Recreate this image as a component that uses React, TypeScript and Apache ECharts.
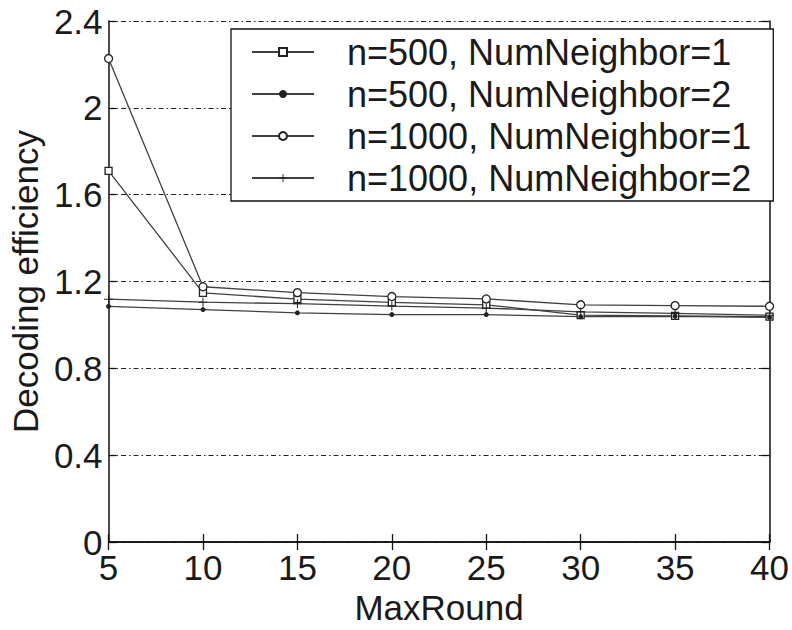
import React, { useEffect, useRef } from "react";
import * as echarts from "echarts";

const maxRound = [5, 10, 15, 20, 25, 30, 35, 40];
const n500nn1 = [1.71, 1.148, 1.119, 1.104, 1.093, 1.045, 1.042, 1.038];
const n500nn2 = [1.086, 1.071, 1.056, 1.048, 1.048, 1.038, 1.04, 1.035];
const n1000nn1 = [2.227, 1.176, 1.149, 1.131, 1.12, 1.093, 1.089, 1.086];
const n1000nn2 = [1.119, 1.105, 1.098, 1.087, 1.078, 1.06, 1.053, 1.045];
const seriesNames = [
  "n=500, NumNeighbor=1",
  "n=500, NumNeighbor=2",
  "n=1000, NumNeighbor=1",
  "n=1000, NumNeighbor=2",
];

const FONT = "'Liberation Sans', Arial, Helvetica, sans-serif";
const LINE = "#404040";
const PLUS = "path://M4,0h1v4h4v1h-4v4h-1v-4h-4v-1h4z";

export default function App() {
  const ref = useRef<HTMLDivElement>(null);
  useEffect(() => {
    if (!ref.current) return;
    const chart = echarts.init(ref.current, undefined, { renderer: "svg" });
    const pair = (vals: number[]) => maxRound.map((x, i) => [x, vals[i]]);
    const mk = (name: string, vals: number[], symbol: string, size: number, hollow: boolean) => ({
      name,
      type: "line",
      data: pair(vals),
      symbol,
      symbolSize: size,
      showSymbol: true,
      lineStyle: { color: LINE, width: 1.3 },
      itemStyle: hollow
        ? { color: "#ffffff", borderColor: "#222", borderWidth: 1.3 }
        : { color: "#222", borderColor: "#222", borderWidth: 0 },
      emphasis: { disabled: true },
      z: 3,
    });
    const tickStyle = { show: true, inside: true, length: 8, lineStyle: { color: "#111", width: 1.3 } };
    const axisLine = { show: true, lineStyle: { color: "#111", width: 1.5 } };
    chart.setOption({
      animation: false,
      backgroundColor: "#ffffff",
      grid: { left: 103, right: 14, top: 21, bottom: 75, containLabel: false },
      legend: {
        orient: "vertical",
        left: 231,
        top: 29,
        data: seriesNames,
        itemWidth: 62,
        itemHeight: 10,
        itemGap: 6,
        padding: [5, 22, 5, 20],
        borderColor: "#111",
        borderWidth: 1.3,
        backgroundColor: "#ffffff",
        textStyle: {
          fontFamily: FONT,
          fontSize: 36,
          lineHeight: 36,
          color: "#1a1a1a",
          padding: [0, 0, 0, 28],
        },
        z: 10,
      },
      xAxis: [
        {
          type: "value",
          min: 5,
          max: 40,
          interval: 5,
          name: "MaxRound",
          nameLocation: "middle",
          nameGap: 32,
          nameTextStyle: { fontFamily: FONT, fontSize: 35, color: "#1a1a1a" },
          axisLine,
          axisTick: tickStyle,
          axisLabel: { fontFamily: FONT, fontSize: 35, color: "#1a1a1a", margin: 8 },
          splitLine: { show: false },
        },
        {
          type: "value",
          position: "top",
          min: 5,
          max: 40,
          interval: 5,
          axisLine,
          axisTick: tickStyle,
          axisLabel: { show: false },
          splitLine: { show: false },
        },
      ],
      yAxis: [
        {
          type: "value",
          min: 0,
          max: 2.4,
          interval: 0.4,
          name: "Decoding efficiency",
          nameLocation: "middle",
          nameGap: 56,
          nameTextStyle: { fontFamily: FONT, fontSize: 35, color: "#1a1a1a" },
          axisLine,
          axisTick: tickStyle,
          axisLabel: { fontFamily: FONT, fontSize: 35, color: "#1a1a1a", margin: 6 },
          splitLine: {
            show: true,
            lineStyle: { color: "#222", width: 1.2, type: [5, 3, 1.5, 3] },
          },
        },
        {
          type: "value",
          position: "right",
          min: 0,
          max: 2.4,
          interval: 0.4,
          axisLine,
          axisTick: tickStyle,
          axisLabel: { show: false },
          splitLine: { show: false },
        },
      ],
      series: [
        mk(seriesNames[0], n500nn1, "rect", 7, true),
        mk(seriesNames[1], n500nn2, "circle", 5, false),
        mk(seriesNames[2], n1000nn1, "circle", 8, true),
        mk(seriesNames[3], n1000nn2, PLUS, 9, false),
      ],
    });
    return () => chart.dispose();
  }, []);
  return (
    <div
      ref={ref}
      style={{ position: "fixed", left: 0, top: 0, width: 792, height: 630, background: "#fff" }}
    />
  );
}
